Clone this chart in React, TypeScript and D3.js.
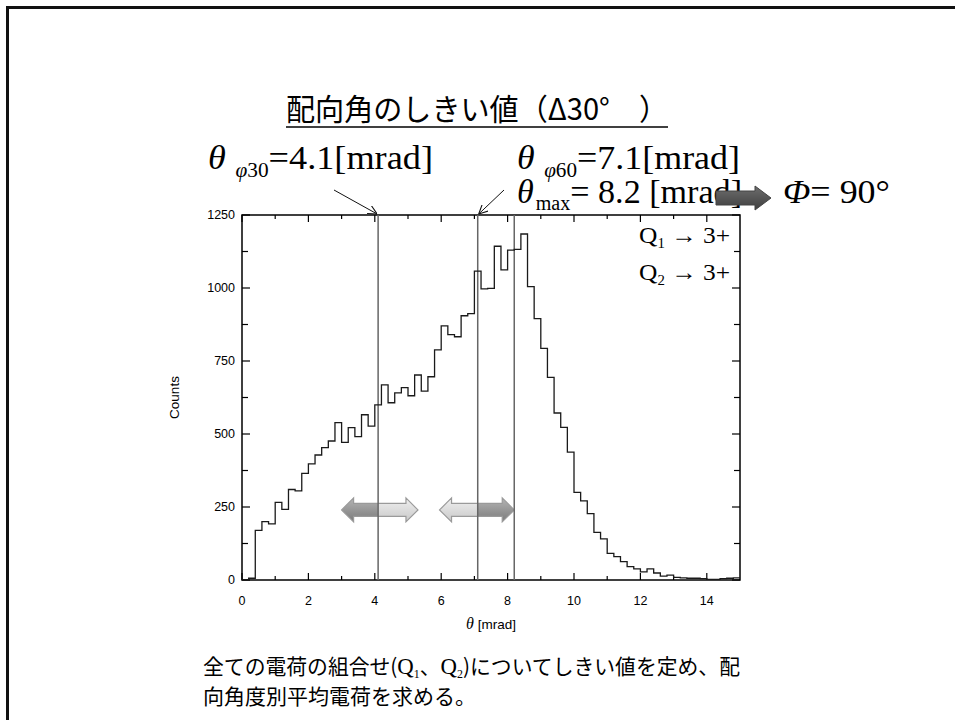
import React from "react";
import * as d3 from "d3";

// ---- data ----
const binWidth = 0.2;
const counts: number[] = [
  0, 6, 170, 200, 192, 266, 242, 310, 305, 365,
  398, 428, 453, 476, 539, 471, 522, 491, 566, 527,
  600, 668, 607, 641, 659, 631, 702, 647, 696, 788,
  870, 840, 833, 905, 912, 1058, 997, 999, 1143, 1062,
  1130, 1132, 1185, 1005, 895, 793, 694, 572, 523, 438,
  300, 271, 227, 163, 141, 91, 80, 63, 46, 38,
  28, 38, 24, 13, 17, 9, 7, 6, 6, 5,
  2, 2, 5, 6, 7,
];
const xTicks = [0, 2, 4, 6, 8, 10, 12, 14];
const xMinorTicks = [1, 3, 5, 7, 9, 11, 13];
const yTicks = [0, 250, 500, 750, 1000, 1250];
const yMinorTicks = [125, 375, 625, 875, 1125];
const thresholds = [4.1, 7.1, 8.2];
// double arrows: [start, split, end] in mrad, darkLeft
const arrowRanges: [number, number, number, boolean][] = [
  [3.0, 4.1, 5.3, true],
  [5.95, 7.1, 8.2, false],
];
const arrowLevel = 240;

const W = 955;
const H = 720;
const L = 242, R = 740, T = 215, B = 580;

export default function App() {
  const x = d3.scaleLinear().domain([0, 15]).range([L, R]);
  const y = d3.scaleLinear().domain([0, 1250]).range([B, T]);

  const pts: [number, number][] = counts.map((c, i) => [i * binWidth, c]);
  pts.push([15, counts[counts.length - 1]]);
  const line = d3
    .line<[number, number]>()
    .x((d) => x(d[0]))
    .y((d) => y(d[1]))
    .curve(d3.curveStepAfter);
  const histPath = line(pts) || "";

  const dbl = (xa: number, xb: number, cy: number, hl = 12, hh = 12, sh = 6.5) =>
    [
      [xa, cy], [xa + hl, cy - hh], [xa + hl, cy - sh], [xb - hl, cy - sh],
      [xb - hl, cy - hh], [xb, cy], [xb - hl, cy + hh], [xb - hl, cy + sh],
      [xa + hl, cy + sh], [xa + hl, cy + hh],
    ].map((p) => p.join(",")).join(" ");

  const single = (xa: number, xb: number, cy: number, hl = 16, hh = 12, sh = 7) =>
    [
      [xa, cy - sh], [xb - hl, cy - sh], [xb - hl, cy - hh], [xb, cy],
      [xb - hl, cy + hh], [xb - hl, cy + sh], [xa, cy + sh],
    ].map((p) => p.join(",")).join(" ");

  const tickFont = "'Liberation Sans Narrow', 'Arial Narrow', 'Liberation Sans', sans-serif";
  const serif = "'Liberation Serif', 'Times New Roman', serif";
  const jp = "'Noto Sans CJK JP', sans-serif";

  return (
    <svg width={W} height={H} style={{ position: "absolute", left: 0, top: 0, background: "#fff" }}>
      <defs>
        <linearGradient id="gDark" x1="0" y1="0" x2="0" y2="1">
          <stop offset="0" stopColor="#b4b4b4" />
          <stop offset="1" stopColor="#7a7a7a" />
        </linearGradient>
        <linearGradient id="gLight" x1="0" y1="0" x2="0" y2="1">
          <stop offset="0" stopColor="#f0f0f0" />
          <stop offset="1" stopColor="#c8c8c8" />
        </linearGradient>
        <linearGradient id="gTop" x1="0" y1="0" x2="0" y2="1">
          <stop offset="0" stopColor="#6e6e6e" />
          <stop offset="1" stopColor="#3e3e3e" />
        </linearGradient>
        {arrowRanges.map((a, i) => (
          <React.Fragment key={i}>
            <clipPath id={`cl${i}`}>
              <rect x={0} y={0} width={x(a[1])} height={H} />
            </clipPath>
            <clipPath id={`cr${i}`}>
              <rect x={x(a[1])} y={0} width={W} height={H} />
            </clipPath>
          </React.Fragment>
        ))}
        <marker id="ah" viewBox="0 0 10 10" refX="10" refY="5" markerWidth="9" markerHeight="9" orient="auto" markerUnits="userSpaceOnUse">
          <path d="M0,0 L10,5 L0,10" fill="none" stroke="#111" strokeWidth={1.2} />
        </marker>
      </defs>

      {/* slide frame */}
      <path d={`M7.5,${H} V7.5 H${W}`} fill="none" stroke="#111" strokeWidth={3} />

      {/* title */}
      <text x={286} y={120} fontFamily={jp} fontSize={30} textLength={382} lengthAdjust="spacingAndGlyphs" fill="#000">
        配向角のしきい値（Δ30°　）
      </text>
      <line x1={286} x2={668} y1={127} y2={127} stroke="#000" strokeWidth={1.5} />

      {/* threshold labels */}
      <text x={208} y={169} fontFamily={serif} textLength={225} lengthAdjust="spacingAndGlyphs" fill="#000">
        <tspan fontStyle="italic" fontSize={34}>θ</tspan>
        <tspan fontStyle="italic" fontSize={20} dx={9} dy={8}>φ</tspan>
        <tspan fontSize={20}>30</tspan>
        <tspan fontSize={34} dy={-8}>=4.1[mrad]</tspan>
      </text>
      <text x={517} y={169} fontFamily={serif} textLength={223} lengthAdjust="spacingAndGlyphs" fill="#000">
        <tspan fontStyle="italic" fontSize={34}>θ</tspan>
        <tspan fontStyle="italic" fontSize={20} dx={9} dy={8}>φ</tspan>
        <tspan fontSize={20}>60</tspan>
        <tspan fontSize={34} dy={-8}>=7.1[mrad]</tspan>
      </text>
      <text x={517} y={203} fontFamily={serif} textLength={225} lengthAdjust="spacingAndGlyphs" fill="#000">
        <tspan fontStyle="italic" fontSize={34}>θ</tspan>
        <tspan fontSize={20} dx={2} dy={7}>max</tspan>
        <tspan fontSize={34} dy={-7}>= 8.2 [mrad]</tspan>
      </text>
      <polygon points={single(716, 771, 198)} fill="url(#gTop)" stroke="#444" strokeWidth={1} />
      <text x={783} y={203} fontFamily={serif} fontSize={34} textLength={107} lengthAdjust="spacingAndGlyphs" fill="#000">
        <tspan fontStyle="italic">Φ</tspan>
        <tspan>= 90°</tspan>
      </text>

      {/* pointer arrows */}
      <line x1={334} y1={190} x2={x(thresholds[0]) - 1} y2={T - 1} stroke="#111" strokeWidth={1} markerEnd="url(#ah)" />
      <line x1={504} y1={190} x2={x(thresholds[1]) + 1} y2={T - 1} stroke="#111" strokeWidth={1} markerEnd="url(#ah)" />

      {/* plot frame */}
      <rect x={L} y={T} width={R - L} height={B - T} fill="none" stroke="#000" strokeWidth={1.5} />

      {/* ticks */}
      {xTicks.map((t) => (
        <g key={`xt${t}`}>
          <line x1={x(t)} x2={x(t)} y1={B} y2={B - 7} stroke="#000" strokeWidth={1.2} />
          <line x1={x(t)} x2={x(t)} y1={T} y2={T + 7} stroke="#000" strokeWidth={1.2} />
          <text x={x(t)} y={605} textAnchor="middle" fontFamily={tickFont} fontSize={12.5} fill="#000">{t}</text>
        </g>
      ))}
      {xMinorTicks.map((t) => (
        <g key={`xm${t}`}>
          <line x1={x(t)} x2={x(t)} y1={B} y2={B - 4} stroke="#000" strokeWidth={1.2} />
          <line x1={x(t)} x2={x(t)} y1={T} y2={T + 4} stroke="#000" strokeWidth={1.2} />
        </g>
      ))}
      {yTicks.map((t) => (
        <g key={`yt${t}`}>
          <line x1={L} x2={L + 8} y1={y(t)} y2={y(t)} stroke="#000" strokeWidth={1.2} />
          <line x1={R} x2={R - 8} y1={y(t)} y2={y(t)} stroke="#000" strokeWidth={1.2} />
          <text x={235} y={y(t) + 4} textAnchor="end" fontFamily={tickFont} fontSize={12.5} fill="#000">{t}</text>
        </g>
      ))}
      {yMinorTicks.map((t) => (
        <g key={`ym${t}`}>
          <line x1={L} x2={L + 6} y1={y(t)} y2={y(t)} stroke="#000" strokeWidth={1.2} />
          <line x1={R} x2={R - 6} y1={y(t)} y2={y(t)} stroke="#000" strokeWidth={1.2} />
        </g>
      ))}

      {/* axis titles */}
      <text x={491} y={629} textAnchor="middle" fontFamily={tickFont} fontSize={13.5} fill="#000">
        <tspan fontStyle="italic" fontFamily={serif} fontSize={16}>θ</tspan>
        <tspan> [mrad]</tspan>
      </text>
      <text transform={`translate(179,${(T + B) / 2}) rotate(-90)`} textAnchor="middle" fontFamily={tickFont} fontSize={13.5} fill="#000">
        Counts
      </text>

      {/* double arrows */}
      {arrowRanges.map((a, i) => {
        const p = dbl(x(a[0]), x(a[2]), y(arrowLevel));
        return (
          <g key={`da${i}`}>
            <polygon points={p} fill={a[3] ? "url(#gDark)" : "url(#gLight)"} clipPath={`url(#cl${i})`} />
            <polygon points={p} fill={a[3] ? "url(#gLight)" : "url(#gDark)"} clipPath={`url(#cr${i})`} />
            <polygon points={p} fill="none" stroke="#9a9a9a" strokeWidth={1.2} />
          </g>
        );
      })}

      {/* threshold lines */}
      {thresholds.map((t) => (
        <line key={`th${t}`} x1={x(t)} x2={x(t)} y1={T} y2={B} stroke="#666" strokeWidth={1.5} />
      ))}

      {/* histogram */}
      <path d={histPath} fill="none" stroke="#1a1a1a" strokeWidth={1.3} />

      {/* charge labels */}
      <text x={639} y={243} fontFamily={serif} fontSize={24} textLength={91} lengthAdjust="spacingAndGlyphs" fill="#000">
        <tspan>Q</tspan>
        <tspan fontSize={14} dy={5}>1</tspan>
        <tspan dy={-5}> → 3+</tspan>
      </text>
      <text x={639} y={280} fontFamily={serif} fontSize={24} textLength={91} lengthAdjust="spacingAndGlyphs" fill="#000">
        <tspan>Q</tspan>
        <tspan fontSize={14} dy={5}>2</tspan>
        <tspan dy={-5}> → 3+</tspan>
      </text>

      {/* bottom text */}
      <text x={203} y={674} fontFamily={jp} fontSize={21} textLength={537} lengthAdjust="spacingAndGlyphs" fill="#000">
        <tspan>全ての電荷の組合せ(</tspan>
        <tspan fontFamily={serif} fontSize={23}>Q</tspan>
        <tspan fontFamily={serif} fontSize={12} dy={4}>1</tspan>
        <tspan dy={-4}>、</tspan>
        <tspan fontFamily={serif} fontSize={23}>Q</tspan>
        <tspan fontFamily={serif} fontSize={12} dy={4}>2</tspan>
        <tspan dy={-4}>)についてしきい値を定め、配</tspan>
      </text>
      <text x={203} y={704} fontFamily={jp} fontSize={21} fill="#000">
        向角度別平均電荷を求める。
      </text>
    </svg>
  );
}
